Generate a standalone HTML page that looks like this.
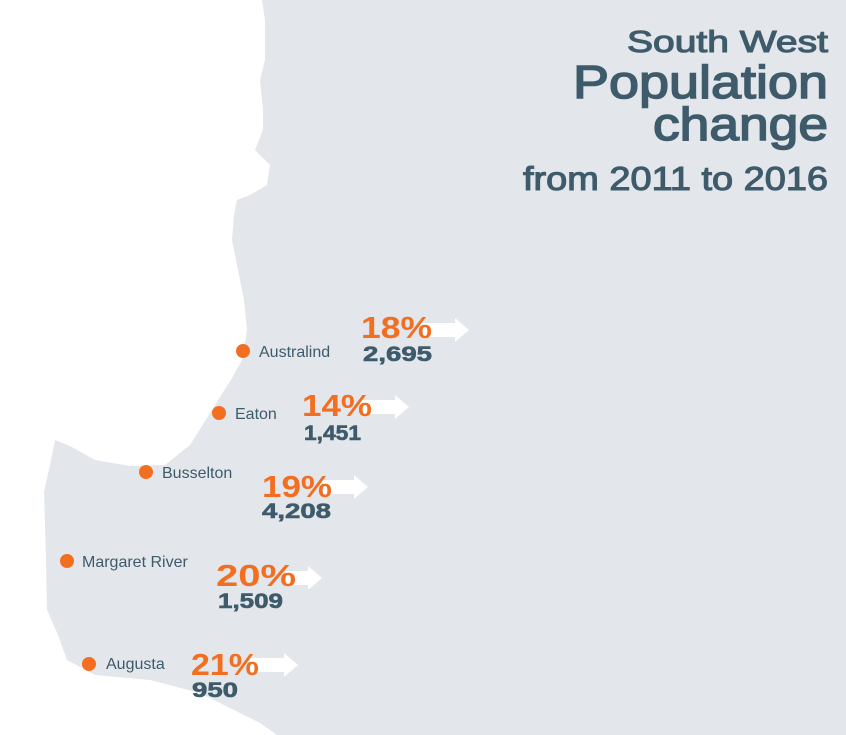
<!DOCTYPE html>
<html><head><meta charset="utf-8"><style>
html,body{margin:0;padding:0;background:#e3e6eb;}
svg{display:block;}
text{font-family:"Liberation Sans",sans-serif;}
.t{fill:#3e5b6b;stroke:#3e5b6b;stroke-width:1.1px;}
.p{fill:#f26f21;font-weight:bold;font-size:31px;}
.n{fill:#3e5b6b;font-weight:bold;font-size:21px;stroke:#3e5b6b;stroke-width:0.6px;}
.l{fill:#3e5b6b;font-size:16px;}
</style></head><body>
<svg width="846" height="735" viewBox="0 0 846 735" xmlns="http://www.w3.org/2000/svg">
<rect width="846" height="735" fill="#e3e6eb"/>
<path fill="#ffffff" d="M0,0 L262,0 L265,20 L265,60 L260,80 L263,110 L263,130 L255,150 L270,165 L267,185 L250,195 L237,200 L234,215 L232,240 L238,270 L244,300 L247,330 L242,360 L232,378 L215,405 L190,445 L165,465 L130,466 L95,460 L70,446 L55,440 L50,465 L44,492 L46,560 L47,610 L58,635 L67,660 L95,675 L150,680 L200,693 L260,723 L277,735 L0,735 Z"/>
<g fill="#ffffff">
<path d="M420,323 L455,323 L455,318 L469,330 L455,342 L455,337 L420,337 Z"/>
<path d="M360,400 L395,400 L395,395 L409,407 L395,419 L395,414 L360,414 Z"/>
<path d="M320,480 L354,480 L354,475 L368,487 L354,499 L354,494 L320,494 Z"/>
<path d="M285,571 L308,571 L308,566 L322,578 L308,590 L308,585 L285,585 Z"/>
<path d="M250,658 L284,658 L284,653 L298,665 L284,677 L284,672 L250,672 Z"/>
</g>
<g fill="#f26f21">
<circle cx="243" cy="351" r="7"/><circle cx="219" cy="413" r="7"/><circle cx="146" cy="472" r="7"/><circle cx="67" cy="561" r="7"/><circle cx="89" cy="664" r="7"/>
</g>
<text class="l" x="259" y="357">Australind</text>
<text class="l" x="235" y="419">Eaton</text>
<text class="l" x="162" y="478">Busselton</text>
<text class="l" x="82" y="567">Margaret River</text>
<text class="l" x="106" y="669">Augusta</text>
<text class="p" x="361" y="338" textLength="71" lengthAdjust="spacingAndGlyphs">18%</text>
<text class="n" x="363" y="361" textLength="69" lengthAdjust="spacingAndGlyphs">2,695</text>
<text class="p" x="302" y="416" textLength="70" lengthAdjust="spacingAndGlyphs">14%</text>
<text class="n" x="304" y="440" textLength="57" lengthAdjust="spacingAndGlyphs">1,451</text>
<text class="p" x="262" y="497" textLength="70" lengthAdjust="spacingAndGlyphs">19%</text>
<text class="n" x="262" y="518" textLength="69" lengthAdjust="spacingAndGlyphs">4,208</text>
<text class="p" x="216" y="586" textLength="80" lengthAdjust="spacingAndGlyphs">20%</text>
<text class="n" x="218" y="608" textLength="65" lengthAdjust="spacingAndGlyphs">1,509</text>
<text class="p" x="191" y="675" textLength="68" lengthAdjust="spacingAndGlyphs">21%</text>
<text class="n" x="192" y="697" textLength="46" lengthAdjust="spacingAndGlyphs">950</text>
<text class="t" x="828" y="52" text-anchor="end" font-size="31" textLength="201" lengthAdjust="spacingAndGlyphs">South West</text>
<text class="t" x="828" y="98" text-anchor="end" font-size="46" textLength="255" lengthAdjust="spacingAndGlyphs" style="stroke-width:1.5px">Population</text>
<text class="t" x="828" y="140" text-anchor="end" font-size="46" textLength="175" lengthAdjust="spacingAndGlyphs" style="stroke-width:1.5px">change</text>
<text class="t" x="828" y="190" text-anchor="end" font-size="33" textLength="305" lengthAdjust="spacingAndGlyphs">from 2011 to 2016</text>
</svg>
</body></html>
